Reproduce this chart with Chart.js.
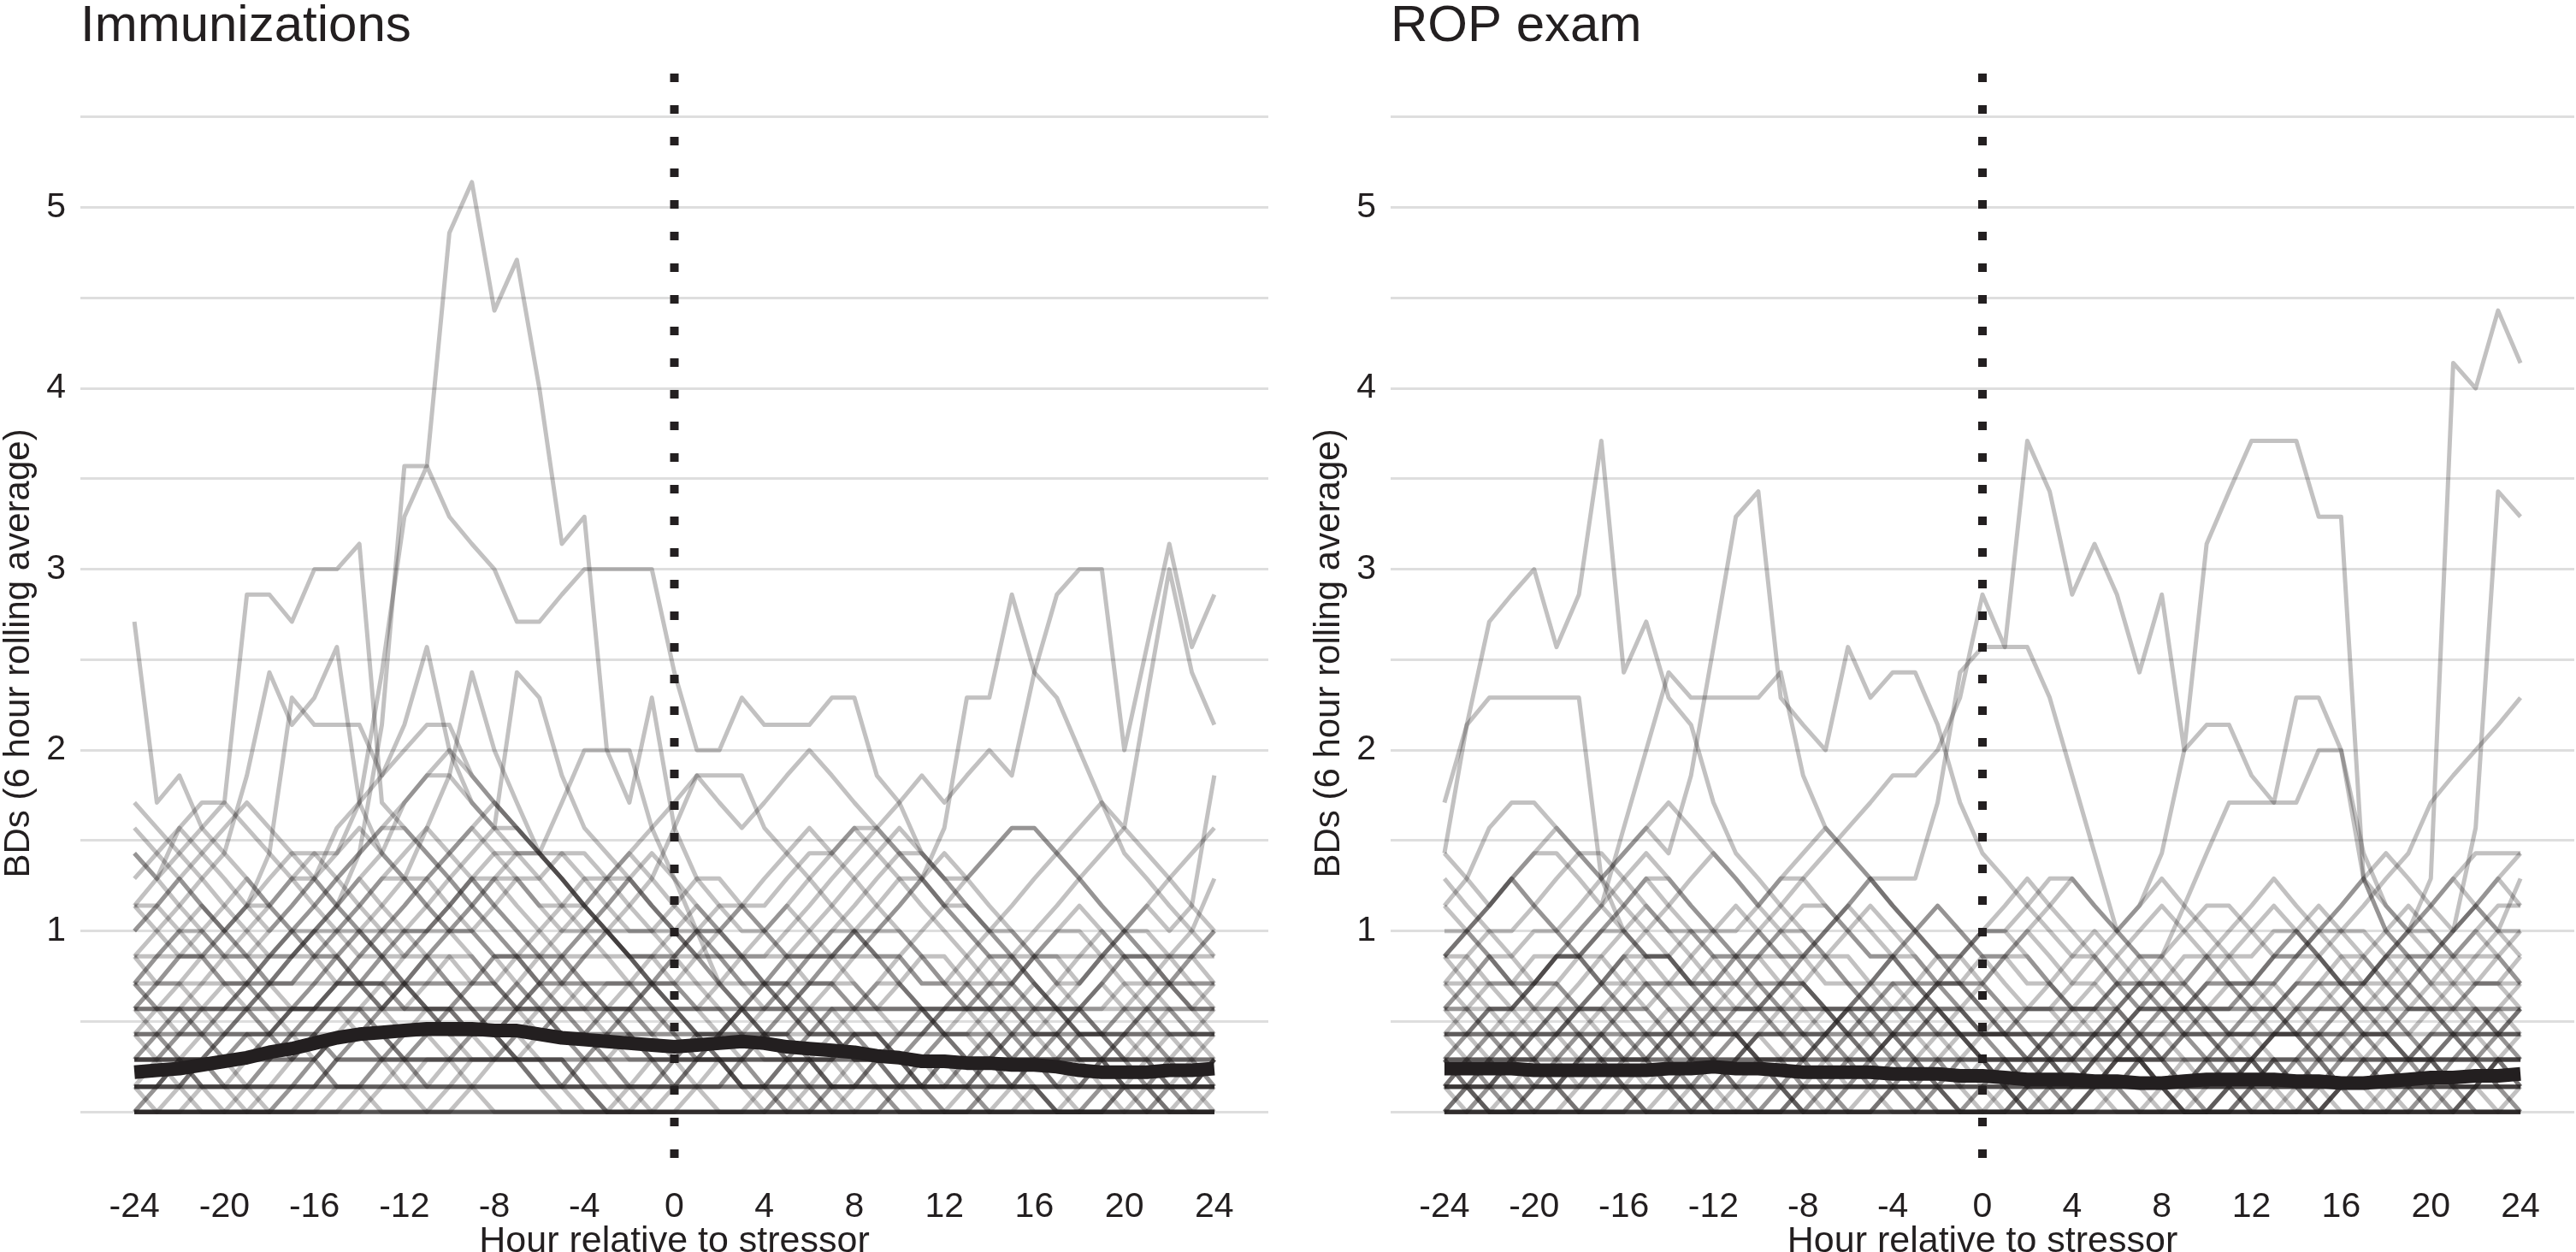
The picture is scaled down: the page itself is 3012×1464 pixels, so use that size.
<!DOCTYPE html>
<html>
<head>
<meta charset="utf-8">
<script src="https://cdn.jsdelivr.net/npm/chart.js@4.4.1/dist/chart.umd.min.js"></script>
<style>
  html, body { margin: 0; padding: 0; background: #fff; }
  body { width: 3012px; height: 1464px; position: relative; overflow: hidden; }
  canvas { position: absolute; top: 0; }
  #immun { left: 0; }
  #rop { left: 1532px; }
</style>
</head>
<body>
<canvas id="immun" width="1500" height="1464"></canvas>
<canvas id="rop" width="1480" height="1464"></canvas>
<script>
// hours relative to the stressor
var hours = [-24,-23,-22,-21,-20,-19,-18, -17,-16,-15,-14,-13,-12,-11, -10,-9,-8,-7,-6,-5,-4,
             -3,-2,-1,0,1,2,3, 4,5,6,7,8,9,10, 11,12,13,14,15,16,17, 18,19,20,21,22,23,24];
var xTicks = [-24,-20,-16,-12,-8,-4,0,4,8,12,16,20,24];
var yGrid = [0,0.5,1,1.5,2,2.5,3,3.5,4,4.5,5,5.5];
var yLabels = [1,2,3,4,5];

// Immunizations: one row per infant (6 hour rolling average of BDs)
var immunSeries = [
  [0.29,0.43,0.43,0.57,0.57,0.71,0.71, 0.86,1,1.14,1.43,2.14,3.57,3.57, 4.86,5.14,4.43,4.71,4,3.14,3.29, 2,2,1.57,1.29,1,0.71,0.57, 0.43,0.43,0.29,0.29,0.14,0.14,0.14, 0.14,0.29,0.29,0.29,0.14,0.14,0, 0,0,0.14,0.14,0.14,0,0],
  [0.57,0.71,0.86,0.86,1,1.14,1.14, 1.29,1.43,1.43,1.71,2.43,3.29,3.57, 3.29,3.14,3,2.71,2.71,2.86,3, 3,3,3,2.43,2,2,2.29, 2.14,2.14,2.14,2.29,2.29,1.86,1.71, 1.43,1.29,1.14,1,0.86,0.71,0.57, 0.43,0.43,0.29,0.29,0.14,0.14,0.14],
  [1.43,1.29,1.57,1.71,1.71,2.86,2.86, 2.71,3,3,3.14,1.71,1.57,1.43, 1.29,1.14,1,0.86,0.86,0.71,0.71, 0.57,0.57,0.43,0.43,0.29,0.29,0.14, 0.14,0.14,0.29,0.29,0.43,0.43,0.29, 0.29,0.14,0.14,0,0,0,0, 0,0.14,0.14,0.14,0.14,0,0],
  [2.71,1.71,1.86,1.57,1.43,1.29,1.14, 1,0.86,0.86,0.71,0.71,0.57,0.57, 0.43,0.43,0.57,0.71,0.86,1,1.14, 1.29,1.29,1.14,1,0.86,0.71,0.57, 0.43,0.29,0.29,0.14,0.14,0.29,0.43, 0.57,0.57,0.71,0.86,0.86,0.71,0.57, 0.43,0.43,0.29,0.29,0.14,0.14,0.29],
  [0.86,1,1.14,1.29,1.43,1.86,2.43, 2.14,2.29,2.57,1.71,1.43,1.29,1.57, 1.86,2.43,2,1.71,1.43,1.29,1.14, 1,0.86,0.86,0.71,0.57,0.57,0.43, 0.43,0.29,0.29,0.14,0.14,0.14,0, 0,0,0,0.14,0.14,0.29,0.29, 0.43,0.43,0.57,0.57,0.43,0.29,0.29],
  [1,1.14,1.29,1.14,1,1.14,1.43, 2.29,2.14,2.14,2.14,1.86,2.14,2.57, 2,1.71,1.57,2.43,2.29,1.86,1.57, 1.43,1.29,1.14,1,0.86,0.86,0.71, 0.71,0.57,0.43,0.43,0.29,0.29,0.29, 0.14,0.14,0.14,0.29,0.29,0.43,0.43, 0.29,0.29,0.14,0.14,0,0,0],
  [0.43,0.43,0.29,0.29,0.43,0.57,0.71, 0.71,0.86,1,1,0.86,0.71,0.57, 0.57,0.43,0.43,0.57,0.71,0.86,1, 1,0.86,0.71,0.57,0.57,0.71,0.86, 1,1.14,1,0.86,0.86,1,1.14, 1.29,1.57,2.29,2.29,2.86,2.43,2.29, 2,1.71,1.43,1.29,1.14,1,0.86],
  [0.14,0.14,0.29,0.29,0.29,0.43,0.43, 0.57,0.57,0.71,0.71,0.57,0.43,0.43, 0.29,0.29,0.29,0.43,0.43,0.57,0.57, 0.71,0.71,0.86,0.86,1,1,1.14, 1.14,1.29,1.43,1.43,1.57,1.57,1.71, 1.86,1.71,1.86,2,1.86,2.43,2.86, 3,3,2,2.57,3.14,2.57,2.86],
  [0.57,0.57,0.43,0.43,0.29,0.29,0.43, 0.57,0.71,0.86,0.71,0.57,0.57,0.71, 0.86,0.86,0.71,0.57,0.57,0.43,0.43, 0.57,0.71,0.71,0.86,1,1.14,1.14, 1,0.86,0.86,1,1.14,1.29,1.43, 1.43,1.29,1.14,1,1.14,1.29,1.43, 1.57,1.71,1.57,2.29,3,2.43,2.14],
  [0.29,0.29,0.43,0.57,0.57,0.71,0.86, 0.86,1,1,1.14,1.29,1.29,1.14, 1,1,1.14,1.29,1.29,1.43,1.43, 1.29,1.43,1.57,1.71,1.86,1.86,1.86, 1.57,1.43,1.29,1.14,1,0.86,0.86, 0.71,0.71,0.86,1,1,0.86,0.86, 0.71,0.86,1,1.14,1,1.14,1.86],
  [0.71,0.57,0.57,0.43,0.43,0.57,0.71, 0.86,1,1.14,1.29,1.14,1,1, 1.14,1.29,1.43,1.43,1.43,1.71,2, 2,1.71,2.29,1.57,1.29,1.14,1, 1,1.14,1.29,1.43,1.57,1.43,1.29, 1.14,1,0.86,0.71,0.57,0.43,0.43, 0.57,0.71,0.86,0.86,0.71,0.57,0.57],
  [1.14,1,0.86,0.86,0.71,0.71,0.86, 1,1.14,1.29,1.43,1.57,1.57,1.43, 1.29,1.14,1,0.86,0.71,0.71,0.86, 1,1.14,1.29,1.57,1.86,1.71,1.57, 1.71,1.86,2,1.86,1.71,1.57,1.43, 1.29,1.14,1.29,1.43,1.57,1.57,1.43, 1.29,1.14,1,0.86,0.71,0.57,0.71],
  [0,0,0,0,0,0,0, 0,0,0.14,0.14,0.14,0.14,0.14, 0.14,0.14,0,0,0,0,0, 0,0,0,0,0,0,0, 0,0.14,0.14,0.14,0.14,0.14,0.14, 0.14,0,0,0,0,0,0, 0,0,0,0,0,0,0],
  [0.14,0.14,0.14,0.14,0.14,0.14,0.14, 0.14,0.14,0.14,0.14,0.14,0.29,0.29, 0.29,0.29,0.29,0.29,0.29,0.14,0.14, 0.14,0.14,0.14,0.14,0.14,0.14,0.14, 0.14,0.14,0.14,0.14,0.14,0.14,0.14, 0.14,0.14,0.14,0.14,0.14,0.14,0.14, 0.14,0.14,0.14,0.14,0.14,0.14,0.14],
  [0,0.14,0.29,0.29,0.14,0,0, 0.14,0.29,0.43,0.43,0.29,0.14,0, 0,0.14,0.29,0.29,0.29,0.14,0.14, 0,0,0.14,0.29,0.43,0.43,0.29, 0.14,0,0,0.14,0.14,0.29,0.29, 0.14,0,0,0,0.14,0.29,0.29, 0.29,0.14,0,0,0.14,0.14,0.29],
  [0.43,0.43,0.57,0.57,0.71,0.71,0.57, 0.43,0.43,0.29,0.43,0.57,0.71,0.86, 0.86,0.71,0.71,0.57,0.43,0.43,0.29, 0.29,0.43,0.43,0.57,0.57,0.57,0.43, 0.29,0.29,0.14,0.14,0.29,0.29,0.29, 0.14,0.14,0.14,0.29,0.43,0.43,0.43, 0.29,0.29,0.14,0.14,0,0,0.14],
  [0.29,0.29,0.29,0.29,0.29,0.29,0.29, 0.43,0.43,0.43,0.43,0.43,0.43,0.43, 0.43,0.43,0.43,0.43,0.43,0.43,0.43, 0.29,0.29,0.29,0.29,0.29,0.29,0.29, 0.29,0.29,0.29,0.29,0.29,0.29,0.29, 0.29,0.29,0.29,0.14,0.14,0.14,0.14, 0.14,0.14,0.14,0.14,0.14,0.14,0.14],
  [0.71,0.86,1,1,0.86,0.71,0.57, 0.57,0.71,0.86,1,1.14,1.29,1.29, 1.14,1,0.86,0.86,0.71,0.57,0.43, 0.43,0.57,0.71,0.86,1,1,0.86, 0.71,0.57,0.57,0.43,0.43,0.29,0.29, 0.43,0.57,0.57,0.71,0.71,0.57,0.43, 0.43,0.29,0.29,0.43,0.57,0.57,0.43],
  [0,0,0,0.14,0.14,0.14,0.14, 0.29,0.43,0.57,0.57,0.57,0.57,0.57, 0.57,0.57,0.43,0.43,0.29,0.29,0.14, 0.14,0.14,0,0,0,0,0, 0,0.14,0.29,0.29,0.43,0.43,0.43, 0.43,0.43,0.43,0.43,0.29,0.14,0, 0,0,0,0,0,0,0],
  [1.14,1.14,1,0.86,1,1.14,1.29, 1.43,1.43,1.29,1.14,1,0.86,0.86, 1,1.14,1.29,1.29,1.14,1.14,1, 0.86,0.71,0.57,0.57,0.43,0.43,0.57, 0.71,0.86,0.86,0.86,1,1,1, 0.86,0.71,0.57,0.57,0.57,0.43,0.43, 0.29,0.29,0.43,0.57,0.71,0.71,0.57],
  [0.14,0,0,0,0,0,0, 0,0,0,0.14,0.29,0.43,0.43, 0.57,0.71,0.86,0.86,0.71,0.57,0.43, 0.29,0.14,0.14,0.14,0.29,0.43,0.57, 0.71,0.71,0.57,0.43,0.29,0.14,0, 0,0,0,0.14,0.14,0.14,0, 0,0,0.14,0.29,0.29,0.29,0.14],
  [0.57,0.57,0.57,0.57,0.43,0.43,0.43, 0.57,0.57,0.71,0.71,0.71,0.71,0.71, 0.71,0.71,0.71,0.57,0.57,0.57,0.57, 0.57,0.57,0.57,0.43,0.43,0.43,0.43, 0.43,0.43,0.57,0.57,0.57,0.57,0.57, 0.57,0.57,0.57,0.57,0.57,0.43,0.43, 0.43,0.43,0.43,0.43,0.43,0.43,0.43],
  [0,0,0.14,0.29,0.43,0.43,0.29, 0.29,0.43,0.57,0.57,0.43,0.29,0.14, 0.29,0.43,0.57,0.71,0.57,0.43,0.29, 0.14,0,0,0,0.14,0.29,0.29, 0.14,0.14,0,0,0,0,0.14, 0.29,0.43,0.43,0.29,0.14,0,0, 0.14,0.29,0.29,0.14,0,0,0],
  [1.29,1.43,1.57,1.43,1.29,1.14,1, 1.14,1.29,1.57,1.71,1.86,2,2.14, 2.14,1.86,1.71,1.57,1.43,1.43,1.29, 1.14,1,1,1.14,1.29,1.29,1.14, 1,0.86,0.71,0.71,0.57,0.57,0.71, 0.86,0.86,0.71,0.57,0.43,0.43,0.29, 0.29,0.29,0.14,0.14,0.29,0.43,0.43],
  [0.86,0.71,0.71,0.57,0.57,0.71,0.86, 1,1,0.86,0.71,0.57,0.71,0.86, 1,1.14,1.29,1.43,1.43,1.29,1.14, 1,1,1,1,1,0.86,0.71, 0.57,0.57,0.71,0.86,1,1.14,1.29, 1.29,1.14,1,0.86,0.71,0.57,0.57, 0.71,0.86,1,1,0.86,0.71,0.71],
  [0,0,0,0,0,0,0.14, 0.14,0.14,0.29,0.29,0.29,0.29,0.29, 0.29,0.14,0.14,0.14,0.14,0.14,0, 0,0,0,0,0,0,0, 0,0,0,0,0,0,0, 0,0,0,0,0,0,0, 0,0,0,0,0,0,0],
  [0.43,0.29,0.29,0.14,0.14,0.14,0.29, 0.43,0.57,0.71,0.86,0.86,0.71,0.57, 0.57,0.43,0.29,0.29,0.43,0.57,0.71, 0.71,0.71,0.57,0.43,0.29,0.29,0.14, 0.14,0.29,0.43,0.57,0.57,0.71,0.71, 0.57,0.43,0.29,0.29,0.29,0.43,0.57, 0.57,0.43,0.29,0.14,0.14,0.14,0.29],
  [1.57,1.43,1.29,1.43,1.57,1.71,1.57, 1.43,1.29,1.14,1.29,1.43,1.71,1.86, 1.86,1.71,1.57,1.43,1.29,1.14,1.14, 1.29,1.43,1.29,1.14,1,0.86,0.86, 0.71,0.86,1,1.14,1.29,1.43,1.57, 1.43,1.29,1.29,1.43,1.57,1.57,1.43, 1.29,1.14,1,0.86,0.86,1,1.29],
  [0.14,0.14,0.29,0.43,0.57,0.57,0.43, 0.29,0.29,0.43,0.57,0.71,0.86,1, 1.14,1.29,1.14,1,0.86,0.71,0.57, 0.43,0.43,0.29,0.14,0.14,0.14,0.29, 0.43,0.57,0.71,0.71,0.57,0.43,0.29, 0.29,0.43,0.57,0.71,0.86,0.86,0.71, 0.57,0.43,0.43,0.57,0.71,0.86,1],
  [0,0,0,0,0,0,0, 0,0,0,0,0,0,0, 0,0,0,0,0,0,0, 0,0,0,0,0,0,0, 0,0,0,0,0,0,0, 0,0,0,0,0,0,0, 0,0,0,0,0,0,0],
  [0.14,0.14,0.14,0,0,0,0, 0,0,0,0,0.14,0.14,0.14, 0.14,0.14,0.14,0.14,0.14,0.14,0.14, 0,0,0,0,0,0,0, 0,0,0,0.14,0.14,0.14,0.14, 0.14,0.14,0.14,0,0,0,0, 0,0,0,0,0.14,0.14,0.14],
  [0.29,0.29,0.43,0.43,0.43,0.43,0.43, 0.43,0.43,0.29,0.29,0.29,0.29,0.29, 0.29,0.43,0.43,0.43,0.43,0.43,0.43, 0.43,0.29,0.29,0.29,0.29,0.29,0.29, 0.29,0.29,0.29,0.43,0.43,0.43,0.43, 0.43,0.43,0.43,0.43,0.29,0.29,0.29, 0.29,0.29,0.29,0.29,0.43,0.43,0.43],
  [0.71,0.71,0.71,0.71,0.71,0.71,0.71, 0.71,0.71,0.71,0.71,0.71,0.71,0.57, 0.57,0.57,0.57,0.57,0.71,0.71,0.71, 0.71,0.71,0.71,0.71,0.71,0.71,0.71, 0.71,0.71,0.71,0.71,0.71,0.57,0.57, 0.57,0.57,0.57,0.57,0.57,0.57,0.57, 0.57,0.57,0.71,0.71,0.71,0.71,0.71],
  [0,0,0,0,0,0,0, 0,0,0,0,0,0,0, 0,0,0,0,0,0,0, 0,0,0,0,0,0,0, 0,0,0,0,0,0,0, 0,0,0,0,0,0,0, 0,0,0,0,0,0,0],
  [0.43,0.57,0.71,0.86,0.71,0.57,0.43, 0.29,0.43,0.57,0.71,0.86,1,0.86, 0.71,0.57,0.43,0.57,0.71,0.86,0.71, 0.57,0.43,0.29,0.14,0.29,0.43,0.57, 0.43,0.29,0.14,0,0.14,0.29,0.43, 0.57,0.43,0.29,0.14,0.14,0.29,0.43, 0.57,0.71,0.57,0.43,0.29,0.14,0.29],
  [0,0.14,0.14,0.29,0.43,0.57,0.71, 0.86,1,1.14,1,0.86,0.71,0.57, 0.43,0.29,0.29,0.43,0.57,0.71,0.86, 1,0.86,0.71,0.57,0.43,0.29,0.14, 0,0,0.14,0.29,0.43,0.43,0.29, 0.14,0.14,0.29,0.43,0.57,0.71,0.57, 0.43,0.29,0.14,0,0,0.14,0.29],
  [0.86,0.86,0.86,0.86,0.86,0.86,0.86, 0.86,0.86,0.86,1,1,1,1, 1,1,0.86,0.86,0.86,0.86,0.86, 0.86,0.86,0.86,0.86,0.86,0.86,0.86, 0.86,0.86,0.86,0.86,0.86,0.86,0.86, 0.71,0.71,0.71,0.71,0.71,0.86,0.86, 0.86,0.86,0.86,0.86,0.86,0.86,0.86],
  [0.14,0.29,0.29,0.14,0.14,0.29,0.43, 0.43,0.29,0.14,0.14,0.29,0.43,0.57, 0.57,0.43,0.43,0.29,0.14,0.14,0.29, 0.43,0.43,0.29,0.29,0.14,0,0, 0.14,0.29,0.29,0.14,0,0,0.14, 0.29,0.29,0.14,0.14,0.29,0.29,0.14, 0,0,0.14,0.14,0.29,0.29,0.14],
  [1,1.14,1.29,1.14,1,0.86,0.71, 0.71,0.86,1,1.14,1.29,1.43,1.57, 1.43,1.29,1.14,1,0.86,0.86,1, 1.14,1.29,1.14,1,0.86,0.71,0.57, 0.57,0.71,0.86,1,1,0.86,0.71, 0.57,0.43,0.43,0.57,0.71,0.86,1, 1.14,1,0.86,0.71,0.71,0.86,1],
  [0.57,0.43,0.29,0.14,0.14,0.14,0.29, 0.43,0.57,0.57,0.43,0.29,0.29,0.43, 0.57,0.71,0.86,0.71,0.57,0.43,0.43, 0.57,0.57,0.43,0.29,0.29,0.43,0.57, 0.71,0.71,0.57,0.43,0.29,0.29,0.29, 0.43,0.57,0.71,0.57,0.43,0.29,0.14, 0.14,0.29,0.43,0.43,0.29,0.29,0.43],
  [0.29,0.29,0.14,0.14,0,0,0, 0.14,0.29,0.43,0.43,0.43,0.29,0.14, 0.14,0.29,0.29,0.29,0.14,0,0, 0,0.14,0.14,0.29,0.29,0.29,0.14, 0.14,0,0,0,0,0.14,0.14, 0.14,0.29,0.29,0.29,0.14,0.14,0, 0,0,0,0.14,0.14,0.14,0],
  [1.43,1.29,1.14,1,0.86,0.86,1, 1.14,1.29,1.43,1.57,1.43,1.29,1.14, 1,0.86,0.71,0.86,1,1.14,1.29, 1.29,1.14,1,0.86,0.71,0.57,0.57, 0.43,0.43,0.57,0.71,0.86,1,1.14, 1.29,1.43,1.29,1.14,1,0.86,0.71, 0.71,0.86,1,1.14,1.29,1.43,1.57],
  [0.14,0.14,0.14,0.29,0.29,0.29,0.29, 0.29,0.29,0.14,0.14,0.14,0.14,0.29, 0.29,0.29,0.29,0.29,0.29,0.29,0.14, 0.14,0.14,0.14,0.14,0.29,0.29,0.29, 0.29,0.29,0.29,0.14,0.14,0.14,0.14, 0.14,0.14,0.29,0.29,0.29,0.29,0.29, 0.14,0.14,0.14,0.14,0.14,0.29,0.29],
  [0.71,0.57,0.57,0.71,0.86,1,1.14, 1.29,1.29,1.14,1,0.86,0.86,1, 1.14,1.29,1.29,1.14,1,0.86,0.71, 0.57,0.57,0.71,0.71,0.57,0.43,0.43, 0.57,0.71,0.86,0.86,0.71,0.57,0.43, 0.43,0.57,0.57,0.43,0.29,0.29,0.43, 0.57,0.71,0.86,0.86,0.71,0.57,0.57],
  [0,0,0,0,0,0.14,0.14, 0.14,0.14,0.14,0.14,0,0,0, 0,0,0,0,0,0,0, 0,0,0,0.14,0.14,0.14,0.14, 0.14,0.14,0.14,0,0,0,0, 0,0,0,0,0,0,0, 0,0.14,0.14,0.14,0.14,0.14,0.14],
  [0.43,0.43,0.43,0.43,0.57,0.57,0.57, 0.57,0.57,0.57,0.57,0.43,0.43,0.43, 0.43,0.43,0.43,0.57,0.57,0.57,0.57, 0.57,0.43,0.43,0.43,0.43,0.43,0.43, 0.43,0.43,0.43,0.43,0.43,0.43,0.29, 0.29,0.29,0.29,0.29,0.29,0.29,0.29, 0.43,0.43,0.43,0.43,0.43,0.43,0.43],
  [1.71,1.57,1.43,1.29,1.14,1,0.86, 1,1.14,1.29,1.43,1.57,1.71,1.86, 2,1.86,1.71,1.57,1.43,1.29,1.14, 1,0.86,0.71,0.71,0.86,1,1.14, 1.29,1.43,1.57,1.43,1.29,1.14,1, 0.86,0.71,0.57,0.57,0.71,0.86,1, 1,0.86,0.71,0.57,0.43,0.43,0.57],
  [0.29,0.43,0.57,0.43,0.29,0.14,0, 0,0.14,0.29,0.43,0.57,0.71,0.86, 0.71,0.57,0.43,0.29,0.14,0.14,0.29, 0.43,0.57,0.71,0.57,0.43,0.29,0.14, 0.14,0.29,0.43,0.57,0.43,0.29,0.14, 0,0,0.14,0.29,0.43,0.29,0.14, 0.14,0.29,0.43,0.57,0.57,0.43,0.29],
  [0.57,0.71,0.86,1,1.14,1.29,1.14, 1,0.86,0.71,0.71,0.86,1,1.14, 1.29,1.43,1.57,1.57,1.43,1.29,1.14, 1,0.86,0.86,1,1.14,1,0.86, 0.71,0.57,0.43,0.43,0.57,0.71,0.86, 1,1.14,1.14,1,0.86,0.71,0.57, 0.43,0.43,0.57,0.71,0.86,0.86,0.71],
  [0,0,0,0,0,0,0, 0,0,0,0,0,0,0, 0.14,0.14,0.14,0.14,0.14,0.14,0.14, 0,0,0,0,0,0,0, 0,0,0,0,0,0,0, 0,0,0,0,0,0.14,0.14, 0.14,0.14,0.14,0,0,0,0],
  [0.29,0.29,0.29,0.29,0.14,0.14,0.14, 0.14,0.14,0.29,0.29,0.29,0.29,0.43, 0.43,0.43,0.43,0.29,0.29,0.29,0.29, 0.29,0.14,0.14,0.14,0.14,0.14,0.29, 0.29,0.29,0.29,0.29,0.29,0.29,0.14, 0.14,0.14,0.14,0.14,0.14,0.14,0.14, 0.29,0.29,0.29,0.29,0.14,0.14,0.14],
  [0.71,0.86,1,1.14,1,0.86,0.71, 0.57,0.57,0.71,0.86,1,1.14,1.29, 1.43,1.57,1.71,1.57,1.43,1.29,1.14, 1,0.86,0.71,0.57,0.43,0.29,0.29, 0.43,0.57,0.71,0.86,1,0.86,0.71, 0.57,0.43,0.29,0.29,0.43,0.57,0.71, 0.86,1,0.86,0.71,0.57,0.43,0.43],
  [0.14,0.14,0.29,0.29,0.29,0.43,0.43, 0.57,0.57,0.57,0.71,0.71,0.57,0.57, 0.43,0.43,0.43,0.29,0.29,0.29,0.14, 0.14,0.14,0.29,0.29,0.43,0.43,0.57, 0.57,0.57,0.43,0.43,0.29,0.29,0.14, 0.14,0.29,0.29,0.43,0.43,0.57,0.57, 0.57,0.43,0.43,0.29,0.29,0.14,0.14],
  [1.14,1.29,1.43,1.57,1.71,1.57,1.43, 1.29,1.14,1,0.86,1,1.14,1.29, 1.43,1.57,1.43,1.29,1.14,1,1, 1.14,1.29,1.43,1.29,1.14,1,0.86, 0.86,1,1.14,1.29,1.43,1.57,1.43, 1.29,1.14,1,0.86,0.86,1,1.14, 1.29,1.43,1.57,1.43,1.29,1.14,1],
  [0,0,0,0,0,0,0, 0,0,0,0,0,0,0, 0,0,0,0,0,0,0, 0,0,0,0,0,0,0, 0,0,0,0,0,0,0, 0,0,0,0,0,0,0, 0,0,0,0,0,0,0],
  [0.14,0.14,0.14,0.14,0.14,0.14,0.14, 0.14,0.14,0.14,0.14,0.14,0.14,0.14, 0.14,0.14,0.14,0.14,0.14,0.14,0.14, 0.14,0.14,0.14,0.14,0.14,0.14,0.14, 0.14,0.14,0.14,0.14,0.14,0.14,0.14, 0.14,0.14,0.14,0.14,0.14,0.14,0.14, 0.14,0.14,0.14,0.14,0.14,0.14,0.14],
  [0.29,0.29,0.29,0.29,0.29,0.29,0.29, 0.29,0.29,0.43,0.43,0.43,0.29,0.29, 0.29,0.29,0.29,0.29,0.29,0.29,0.29, 0.29,0.29,0.29,0.29,0.29,0.29,0.29, 0.43,0.43,0.29,0.29,0.29,0.29,0.29, 0.29,0.29,0.29,0.29,0.29,0.29,0.29, 0.29,0.29,0.29,0.29,0.29,0.29,0.29],
  [0.57,0.57,0.57,0.57,0.57,0.57,0.57, 0.57,0.57,0.57,0.57,0.57,0.71,0.71, 0.71,0.57,0.57,0.57,0.57,0.57,0.57, 0.57,0.57,0.57,0.57,0.57,0.57,0.57, 0.57,0.57,0.57,0.57,0.57,0.57,0.57, 0.57,0.57,0.57,0.57,0.57,0.57,0.57, 0.57,0.57,0.57,0.57,0.57,0.57,0.57]
];
var immunMean = [0.22,0.23,0.24,0.26,0.28,0.30,0.33, 0.35,0.38,0.41,0.43,0.44,0.45,0.46, 0.46,0.46,0.45,0.45,0.43,0.41,0.40,
                 0.39,0.38,0.37,0.36,0.37,0.38,0.39, 0.38,0.36,0.35,0.34,0.33,0.31,0.30, 0.28,0.28,0.27,0.27,0.26,0.26,0.25,
                 0.23,0.22,0.22,0.22,0.23,0.23,0.24];

// ROP exam
var ropSeries = [
  [0.14,0.14,0,0,0,0.14,0.14, 0.29,0.29,0.43,0.43,0.29,0.29,0.14, 0.14,0.14,0,0,0,0,0.14, 0.14,0.29,0.29,0.43,0.43,0.57,0.57, 0.43,0.43,0.29,0.29,0.29,0.43,0.57, 0.57,0.71,0.71,0.86,0.86,1,1, 0.86,1,1.29,4.14,4,4.43,4.14],
  [0.43,0.43,0.29,0.29,0.14,0.14,0.29, 0.29,0.43,0.43,0.57,0.57,0.43,0.43, 0.29,0.29,0.14,0.14,0.29,0.29,0.43, 0.43,0.57,0.57,0.43,0.43,0.29,0.29, 0.14,0.14,0.29,0.29,0.43,0.57,0.57, 0.71,0.71,0.57,0.57,0.43,0.43,0.57, 0.71,0.86,0.86,1,1.57,3.43,3.29],
  [0.29,0.29,0.43,0.43,0.57,0.57,0.43, 0.43,0.29,0.29,0.43,0.57,0.71,0.71, 0.57,0.57,0.43,0.43,0.57,0.71,0.86, 0.86,0.71,0.71,0.57,0.43,0.43,0.29, 0.29,0.43,0.57,0.71,0.71,0.57,0.57, 0.43,0.57,0.71,0.86,1,1,1.14, 1.29,1.43,1.71,1.86,2,2.14,2.29],
  [1.71,2.14,2.71,2.86,3,2.57,2.86, 3.71,2.43,2.71,2.29,2.14,1.71,1.43, 1.29,1.14,1,0.86,0.86,0.71,0.57, 0.57,0.43,0.43,0.29,0.29,0.14,0.14, 0.14,0.29,0.29,0.43,0.43,0.29,0.29, 0.14,0.14,0,0,0,0.14,0.14, 0.29,0.29,0.43,0.43,0.29,0.29,0.14],
  [0.57,0.71,0.86,0.86,1,1,1.14, 1.29,1.43,1.57,1.43,1.86,2.57,3.29, 3.43,2.29,2.14,2,2.57,2.29,2.43, 2.43,2.14,1.71,1.43,1.29,1.14,1, 0.86,0.86,0.71,0.57,0.57,0.43,0.43, 0.29,0.29,0.43,0.43,0.57,0.57,0.43, 0.43,0.29,0.29,0.14,0.14,0.29,0.29],
  [0.43,0.43,0.57,0.57,0.71,0.71,0.57, 0.57,0.71,0.86,0.86,0.71,0.71,0.86, 1,1.14,1.29,1.43,1.57,1.71,1.86, 1.86,2,2.29,2.86,2.57,3.71,3.43, 2.86,3.14,2.86,2.43,2.86,2,3.14, 3.43,3.71,3.71,3.71,3.29,3.29,1.29, 1,0.86,0.71,0.57,0.57,0.43,0.43],
  [0.14,0.29,0.29,0.43,0.43,0.29,0.29, 0.43,0.57,0.57,0.43,0.29,0.29,0.43, 0.57,0.71,0.71,0.57,0.43,0.43,0.57, 0.71,0.86,0.86,1,1,1.14,1.29, 1.29,1.14,1,1.14,1.43,2,2.14, 2.14,1.86,1.71,2.29,2.29,2,1.29, 1,0.86,0.71,0.71,0.57,0.57,0.43],
  [1.43,2.14,2.29,2.29,2.29,2.29,2.29, 1.29,1,0.86,0.86,0.71,0.71,0.57, 0.57,0.43,0.43,0.57,0.57,0.71,0.71, 0.57,0.57,0.43,0.43,0.29,0.29,0.29, 0.14,0.14,0.14,0.29,0.29,0.29,0.14, 0.14,0,0,0,0.14,0.14,0.14, 0.29,0.29,0.29,0.14,0.14,0,0],
  [0.86,1,1.14,1.29,1.43,1.43,1.29, 1.14,1.57,2,2.43,2.29,2.29,2.29, 2.29,2.43,1.86,1.57,1.43,1.29,1.14, 1,0.86,0.71,0.71,0.57,0.43,0.43, 0.29,0.29,0.43,0.43,0.57,0.57,0.71, 0.71,0.57,0.57,0.43,0.43,0.29,0.29, 0.14,0.14,0.29,0.29,0.43,0.43,0.57],
  [0.29,0.43,0.57,0.57,0.71,0.86,0.86, 0.71,0.57,0.57,0.71,0.86,1,1.14, 1,0.86,0.86,1,1.14,1.29,1.29, 1.29,1.71,2.43,2.57,2.57,2.57,2.29, 1.86,1.43,1,0.86,0.71,0.57,0.57, 0.43,0.43,0.57,0.71,0.71,0.86,0.86, 0.71,0.57,0.57,0.43,0.43,0.29,0.29],
  [0.71,0.86,1,1,1.14,1.29,1.43, 1.43,1.29,1.14,1,1,0.86,0.86, 0.71,0.71,0.57,0.57,0.43,0.43,0.57, 0.57,0.71,0.71,0.57,0.43,0.43,0.29, 0.29,0.43,0.57,0.71,0.86,1.14,1.43, 1.71,1.71,1.71,1.71,2,2,1.43, 1.14,1,1.14,1.29,1.43,1.43,1.43],
  [1.14,1.29,1.57,1.71,1.71,1.57,1.43, 1.29,1.43,1.57,1.71,1.57,1.43,1.29, 1.14,1.29,1.43,1.57,1.43,1.29,1.14, 1,0.86,0.86,1,1.14,1.29,1.14, 1,0.86,0.71,0.57,0.57,0.71,0.86, 1,1.14,1.29,1.14,1,0.86,0.71, 0.86,1,1.14,1.29,1.14,1,1.29],
  [0,0,0,0,0,0,0, 0,0,0,0,0,0,0, 0,0,0,0,0,0,0, 0,0,0,0,0,0,0, 0,0,0,0,0,0,0, 0,0,0,0,0,0,0, 0,0,0,0,0,0,0],
  [0,0,0,0,0,0,0, 0,0,0,0,0,0,0, 0,0,0,0,0,0,0, 0,0,0,0,0,0,0, 0,0,0,0,0,0,0, 0,0,0,0,0,0,0, 0,0,0,0,0,0,0],
  [0.14,0.14,0.14,0.14,0.14,0.14,0.14, 0.14,0.14,0.14,0.14,0.14,0.14,0.14, 0.14,0.14,0,0.14,0.14,0.14,0.14, 0.14,0.14,0.14,0.14,0.14,0.14,0.14, 0.14,0.14,0.14,0.14,0.14,0.14,0.14, 0.14,0.14,0.14,0.14,0,0.14,0.14, 0.14,0.14,0.14,0.14,0.14,0.14,0.14],
  [0,0.14,0.29,0.43,0.29,0.14,0, 0.14,0.29,0.29,0.14,0,0.14,0.29, 0.43,0.43,0.29,0.14,0,0,0.14, 0.29,0.29,0.14,0,0,0.14,0.29, 0.43,0.29,0.14,0,0.14,0.29,0.29, 0.14,0,0,0.14,0.29,0.43,0.29, 0.14,0,0.14,0.29,0.29,0.14,0],
  [0.29,0.29,0.29,0.29,0.29,0.43,0.43, 0.43,0.29,0.29,0.29,0.29,0.29,0.29, 0.29,0.29,0.29,0.43,0.43,0.43,0.29, 0.29,0.29,0.29,0.29,0.29,0.14,0.14, 0.14,0.14,0.14,0.29,0.29,0.29,0.29, 0.29,0.29,0.14,0.14,0.14,0.14,0.14, 0.29,0.29,0.29,0.29,0.29,0.29,0.29],
  [0.86,0.71,0.57,0.57,0.71,0.86,0.86, 0.71,0.57,0.43,0.43,0.57,0.71,0.86, 1,0.86,0.71,0.57,0.43,0.29,0.29, 0.43,0.57,0.57,0.43,0.29,0.14,0.14, 0.14,0.29,0.43,0.57,0.57,0.43,0.29, 0.29,0.29,0.43,0.57,0.71,0.71,0.57, 0.43,0.43,0.57,0.71,0.86,0.86,0.71],
  [0.57,0.57,0.43,0.43,0.43,0.57,0.57, 0.57,0.57,0.71,0.71,0.71,0.57,0.57, 0.57,0.43,0.43,0.43,0.57,0.57,0.57, 0.57,0.57,0.43,0.43,0.43,0.43,0.43, 0.43,0.43,0.43,0.57,0.57,0.57,0.57, 0.57,0.57,0.57,0.43,0.43,0.43,0.43, 0.43,0.57,0.57,0.57,0.57,0.57,0.57],
  [0,0,0.14,0.14,0,0,0, 0,0.14,0.14,0.14,0,0,0, 0,0,0.14,0.14,0.14,0.14,0, 0,0,0,0,0.14,0.14,0.14, 0,0,0,0,0,0.14,0.14, 0.14,0,0,0,0,0,0, 0,0.14,0.14,0.14,0,0,0],
  [0.14,0.29,0.43,0.57,0.71,0.71,0.57, 0.43,0.29,0.14,0.14,0.29,0.43,0.57, 0.57,0.71,0.86,0.86,0.71,0.57,0.43, 0.29,0.14,0,0,0,0.14,0.29, 0.29,0.43,0.43,0.29,0.14,0,0, 0.14,0.29,0.43,0.43,0.29,0.14,0.14, 0,0,0.14,0.29,0.43,0.57,0.57],
  [1,1,0.86,0.71,0.71,0.86,1, 1.14,1,0.86,0.86,1,1,0.86, 0.71,0.71,0.86,1,1.14,1,0.86, 0.71,0.57,0.57,0.71,0.86,0.86,0.71, 0.57,0.43,0.43,0.57,0.71,0.86,0.86, 0.71,0.71,0.86,1,0.86,0.71,0.71, 0.86,1,1,0.86,0.71,0.86,1],
  [0.43,0.43,0.43,0.43,0.43,0.43,0.43, 0.29,0.29,0.29,0.43,0.43,0.43,0.43, 0.43,0.43,0.57,0.57,0.57,0.43,0.43, 0.43,0.43,0.43,0.43,0.43,0.43,0.43, 0.29,0.29,0.29,0.29,0.29,0.43,0.43, 0.43,0.43,0.43,0.43,0.43,0.29,0.29, 0.29,0.29,0.43,0.43,0.43,0.43,0.43],
  [0.14,0.14,0.14,0.29,0.29,0.29,0.14, 0.14,0.14,0.14,0.14,0.29,0.29,0.29, 0.29,0.14,0.14,0.14,0.14,0.14,0.14, 0.14,0.14,0.14,0.29,0.29,0.29,0.29, 0.14,0.14,0.14,0.14,0.14,0.14,0.14, 0.14,0.14,0.29,0.29,0.29,0.14,0.14, 0.14,0.14,0.14,0.14,0.14,0.29,0.29],
  [0.71,0.71,0.71,0.71,0.86,0.86,0.86, 0.71,0.71,0.71,0.71,0.71,0.86,0.86, 0.86,0.71,0.71,0.57,0.57,0.57,0.71, 0.71,0.71,0.71,0.57,0.57,0.57,0.57, 0.57,0.57,0.71,0.71,0.71,0.71,0.57, 0.57,0.57,0.57,0.71,0.71,0.71,0.71, 0.71,0.57,0.57,0.57,0.71,0.71,0.71],
  [0,0,0,0,0.14,0.14,0.29, 0.43,0.43,0.29,0.14,0,0,0, 0,0.14,0.29,0.43,0.57,0.57,0.43, 0.29,0.14,0,0,0,0,0, 0,0,0.14,0.14,0.14,0,0, 0,0,0,0,0.14,0.29,0.43, 0.43,0.29,0.14,0,0,0,0],
  [1.29,1.14,1,0.86,0.71,0.86,1, 1.14,1.29,1.43,1.29,1.14,1,1, 1.14,1.29,1.29,1.14,1,0.86,0.86, 0.71,0.71,0.86,1,1,0.86,0.71, 0.57,0.57,0.71,0.86,0.86,0.71,0.57, 0.57,0.71,0.86,1,1.14,1,0.86, 0.71,0.71,0.86,1,1.14,1.29,1.14],
  [0.29,0.14,0,0,0.14,0.29,0.43, 0.57,0.57,0.43,0.29,0.14,0.14,0.29, 0.43,0.43,0.29,0.29,0.43,0.57,0.71, 0.71,0.57,0.43,0.29,0.14,0,0, 0,0.14,0.29,0.43,0.57,0.57,0.43, 0.29,0.14,0.14,0.29,0.43,0.57,0.71, 0.86,0.71,0.57,0.43,0.29,0.14,0.14],
  [0.14,0,0,0,0,0,0, 0,0,0,0,0,0,0, 0,0,0,0,0,0,0.14, 0.14,0.14,0,0,0,0,0, 0,0,0,0,0,0,0, 0,0,0,0,0,0,0, 0,0,0,0,0,0,0.14],
  [0.57,0.43,0.43,0.29,0.29,0.43,0.57, 0.71,0.86,0.86,0.71,0.57,0.43,0.43, 0.29,0.29,0.29,0.43,0.43,0.57,0.57, 0.43,0.29,0.14,0.14,0.14,0.29,0.43, 0.43,0.57,0.71,0.71,0.57,0.43,0.29, 0.29,0.29,0.14,0.14,0.29,0.43,0.57, 0.57,0.43,0.29,0.29,0.29,0.43,0.57],
  [0.14,0.14,0.29,0.29,0.14,0.14,0, 0,0,0.14,0.14,0.14,0,0, 0.14,0.29,0.29,0.14,0,0,0, 0,0.14,0.14,0.14,0,0,0, 0.14,0.14,0.14,0,0,0,0, 0,0.14,0.29,0.29,0.14,0,0, 0,0,0,0.14,0.14,0.14,0.14],
  [0.86,1,1.14,1.29,1.14,1,0.86, 0.86,1,1.14,1,0.86,0.71,0.71, 0.86,1,1,0.86,0.71,0.71,0.86, 1,1.14,1,0.86,0.71,0.57,0.57, 0.71,0.86,1,1.14,1.29,1.14,1, 0.86,0.86,1,1,0.86,0.71,0.86, 1,1.14,1,0.86,0.86,1,1],
  [0,0,0,0,0,0,0, 0,0,0,0,0,0,0, 0,0,0,0,0,0,0, 0,0,0,0,0,0,0, 0,0,0,0,0,0,0, 0,0,0,0,0,0,0, 0,0,0,0,0,0,0],
  [0,0,0,0,0,0,0, 0,0,0,0,0,0,0, 0,0,0,0,0,0,0, 0,0,0,0,0,0,0, 0,0,0,0,0,0,0, 0,0,0,0,0,0,0, 0,0,0,0,0,0,0],
  [0.14,0.14,0.14,0.14,0.14,0.14,0.14, 0.14,0.14,0.14,0.14,0.14,0.14,0.14, 0.14,0.14,0.14,0.14,0.14,0.14,0.14, 0.14,0.14,0.14,0.14,0.14,0.14,0.14, 0.14,0.14,0.14,0.14,0.14,0.14,0.14, 0.14,0.14,0.14,0.14,0.14,0.14,0.14, 0.14,0.14,0.14,0.14,0.14,0.14,0.14],
  [0,0.14,0,0.14,0.29,0.14,0, 0.14,0.29,0.43,0.29,0.14,0,0.14, 0.29,0.14,0,0,0.14,0.29,0.43, 0.29,0.14,0,0.14,0.29,0.14,0, 0,0.14,0.29,0.43,0.29,0.14,0, 0.14,0.29,0.14,0,0,0.14,0.29, 0.43,0.29,0.14,0,0.14,0.29,0.14],
  [0.29,0.43,0.57,0.43,0.29,0.14,0.29, 0.43,0.57,0.71,0.57,0.43,0.29,0.14, 0,0.14,0.29,0.43,0.57,0.43,0.29, 0.14,0.29,0.43,0.29,0.14,0,0.14, 0.29,0.43,0.57,0.43,0.29,0.14,0, 0.14,0.29,0.43,0.57,0.71,0.57,0.43, 0.29,0.14,0.29,0.43,0.57,0.43,0.29],
  [0.43,0.29,0.14,0.29,0.43,0.57,0.71, 0.86,0.71,0.57,0.43,0.29,0.43,0.57, 0.71,0.57,0.43,0.29,0.14,0.29,0.43, 0.57,0.43,0.29,0.14,0.14,0.29,0.43, 0.57,0.71,0.57,0.43,0.29,0.43,0.57, 0.43,0.29,0.14,0.29,0.43,0.57,0.71, 0.57,0.43,0.29,0.14,0.29,0.43,0.57],
  [0.14,0.29,0.14,0,0,0.14,0.29, 0.29,0.14,0,0,0,0.14,0.29, 0.43,0.29,0.14,0,0.14,0.14,0.29, 0.14,0,0,0.14,0.29,0.29,0.14, 0,0.14,0.14,0.29,0.14,0,0, 0,0.14,0.29,0.14,0,0.14,0.29, 0.29,0.14,0,0,0.14,0.29,0.14],
  [0.57,0.71,0.86,0.71,0.57,0.43,0.57, 0.71,0.86,1,0.86,0.71,0.57,0.43, 0.57,0.71,0.71,0.57,0.43,0.29,0.43, 0.57,0.71,0.86,0.71,0.57,0.43,0.29, 0.14,0.29,0.43,0.57,0.71,0.57,0.43, 0.29,0.43,0.57,0.71,0.86,0.71,0.57, 0.43,0.57,0.71,0.86,1,0.86,0.71],
  [0.29,0.29,0.29,0.14,0.14,0.14,0.14, 0.29,0.29,0.29,0.29,0.43,0.43,0.43, 0.29,0.29,0.29,0.29,0.29,0.14,0.14, 0.14,0.14,0.29,0.29,0.29,0.29,0.29, 0.29,0.14,0.14,0.14,0.14,0.14,0.29, 0.29,0.29,0.29,0.29,0.14,0.14,0.14, 0.14,0.29,0.29,0.29,0.29,0.29,0.29],
  [0,0,0.14,0.29,0.43,0.57,0.43, 0.29,0.14,0,0,0.14,0.29,0.43, 0.29,0.14,0,0,0,0.14,0.29, 0.43,0.57,0.43,0.29,0.14,0,0, 0,0.14,0.29,0.29,0.14,0,0, 0.14,0.29,0.43,0.43,0.29,0.14,0, 0,0.14,0.29,0.43,0.29,0.14,0],
  [0.86,0.86,0.71,0.71,0.71,0.86,0.86, 1,1,0.86,0.86,0.71,0.71,0.71, 0.86,0.86,0.86,0.71,0.71,0.57,0.57, 0.57,0.71,0.71,0.86,0.86,0.71,0.71, 0.57,0.57,0.57,0.71,0.71,0.71,0.86, 0.86,0.71,0.71,0.57,0.57,0.71,0.71, 0.86,0.86,0.86,0.71,0.71,0.71,0.86],
  [0.14,0.14,0.14,0,0,0,0.14, 0.14,0.14,0.14,0.14,0.14,0,0, 0,0,0.14,0.14,0.14,0.14,0.14, 0.14,0,0,0,0,0,0.14, 0.14,0.14,0.14,0.14,0,0,0, 0,0,0.14,0.14,0.14,0.14,0, 0,0,0,0,0.14,0.14,0.14],
  [0.43,0.57,0.71,0.57,0.43,0.43,0.57, 0.71,0.86,0.71,0.57,0.43,0.29,0.29, 0.43,0.57,0.57,0.43,0.29,0.29,0.43, 0.57,0.71,0.57,0.43,0.43,0.29,0.29, 0.43,0.43,0.29,0.29,0.43,0.57,0.71, 0.71,0.57,0.43,0.43,0.57,0.57,0.43, 0.29,0.29,0.43,0.57,0.71,0.71,0.57],
  [1.14,1,0.86,0.71,0.57,0.71,0.86, 1,1.14,1.29,1.14,1,0.86,0.71, 0.57,0.57,0.71,0.86,1,1.14,1, 0.86,0.71,0.57,0.43,0.43,0.57,0.71, 0.86,1,0.86,0.71,0.57,0.57,0.71, 0.86,1,1.14,1,0.86,0.71,0.57, 0.57,0.71,0.86,1,1.14,1,0.86],
  [0.29,0.14,0.14,0.29,0.43,0.43,0.29, 0.14,0.14,0.29,0.43,0.57,0.57,0.43, 0.29,0.29,0.43,0.43,0.29,0.14,0.14, 0.29,0.43,0.57,0.57,0.43,0.29,0.14, 0.14,0.14,0.29,0.29,0.14,0.14,0.29, 0.43,0.43,0.29,0.14,0.14,0.29,0.43, 0.43,0.29,0.29,0.43,0.57,0.43,0.29],
  [0.57,0.57,0.57,0.57,0.57,0.57,0.57, 0.57,0.43,0.43,0.43,0.43,0.57,0.57, 0.57,0.57,0.57,0.57,0.57,0.57,0.43, 0.43,0.43,0.43,0.43,0.57,0.57,0.57, 0.57,0.57,0.57,0.43,0.43,0.43,0.43, 0.43,0.43,0.43,0.57,0.57,0.57,0.57, 0.57,0.57,0.57,0.57,0.43,0.43,0.43],
  [0,0.14,0.29,0.14,0,0,0, 0,0,0.14,0.29,0.29,0.14,0, 0,0,0,0.14,0.29,0.29,0.14, 0,0,0,0,0,0.14,0.29, 0.29,0.14,0,0,0,0,0.14, 0.29,0.14,0,0,0,0,0, 0.14,0.29,0.29,0.14,0,0,0],
  [1.43,1.29,1.14,1.29,1.43,1.57,1.43, 1.29,1.14,1,1.14,1.29,1.43,1.29, 1.14,1,0.86,1,1.14,1.29,1.14, 1,0.86,0.71,0.71,0.86,1,0.86, 0.71,0.71,0.86,1,1.14,1,0.86, 0.71,0.71,0.86,0.86,1,1.14,1.29, 1.43,1.29,1.14,1,1.14,1.29,1.43],
  [0.71,0.57,0.43,0.29,0.29,0.43,0.57, 0.57,0.43,0.29,0.29,0.43,0.57,0.71, 0.71,0.57,0.43,0.43,0.57,0.71,0.86, 0.71,0.57,0.43,0.29,0.29,0.29,0.43, 0.57,0.57,0.43,0.29,0.14,0.14,0.29, 0.43,0.57,0.57,0.43,0.29,0.29,0.43, 0.57,0.71,0.57,0.43,0.43,0.57,0.71],
  [0.29,0.29,0.29,0.29,0.29,0.29,0.29, 0.29,0.29,0.29,0.14,0.14,0.29,0.29, 0.29,0.29,0.29,0.29,0.29,0.29,0.29, 0.29,0.29,0.29,0.29,0.29,0.29,0.29, 0.29,0.29,0.29,0.29,0.29,0.14,0.14, 0.29,0.29,0.29,0.29,0.29,0.29,0.29, 0.29,0.29,0.29,0.29,0.29,0.29,0.29],
  [0.43,0.43,0.43,0.43,0.43,0.43,0.43, 0.43,0.43,0.43,0.43,0.43,0.43,0.43, 0.43,0.43,0.43,0.29,0.29,0.43,0.43, 0.43,0.43,0.43,0.43,0.43,0.43,0.43, 0.43,0.43,0.43,0.43,0.43,0.43,0.43, 0.43,0.43,0.43,0.43,0.43,0.43,0.43, 0.43,0.43,0.43,0.43,0.43,0.43,0.43],
  [0,0,0,0,0,0,0, 0,0,0,0,0,0,0, 0,0,0,0,0,0,0, 0,0,0,0,0,0,0, 0,0,0,0,0,0,0, 0,0,0,0,0,0,0, 0,0,0,0,0,0,0],
  [0.29,0.14,0,0,0.14,0.29,0.43, 0.29,0.14,0,0.14,0.29,0.29,0.14, 0,0,0.14,0.29,0.43,0.29,0.14, 0,0.14,0.29,0.29,0.14,0,0, 0.14,0.29,0.43,0.29,0.14,0,0, 0,0.14,0.29,0.14,0,0.14,0.29, 0.29,0.14,0,0,0.14,0.29,0.43],
  [0.86,1,1.14,1.29,1.14,1,0.86, 1,1.14,1.29,1.29,1.14,1,0.86, 0.86,1,1.14,1.14,1,0.86,0.86, 1,1.14,1,0.86,0.86,1,1.14, 1.29,1.14,1,0.86,0.86,1,1.14, 1.14,1,0.86,0.86,1,1.14,1.29, 1.14,1,0.86,0.86,1,1.14,1.14],
  [0.14,0.14,0.14,0.14,0.14,0.14,0.14, 0.14,0.14,0.14,0.14,0.14,0.14,0.14, 0.14,0.14,0.14,0.14,0.14,0.14,0.14, 0.14,0.14,0.14,0.14,0.14,0.14,0.14, 0.14,0.14,0.14,0.14,0.14,0.14,0.14, 0.14,0.14,0.14,0.14,0.14,0.14,0.14, 0.14,0.14,0.14,0.14,0.14,0.14,0.14]
];
var ropMean = [0.24,0.24,0.24,0.24,0.23,0.23,0.23, 0.23,0.23,0.23,0.24,0.24,0.25,0.24, 0.24,0.23,0.22,0.22,0.22,0.22,0.21,
               0.21,0.21,0.20,0.20,0.19,0.18,0.18, 0.18,0.17,0.17,0.16,0.16,0.17,0.18, 0.18,0.18,0.18,0.17,0.17,0.16,0.16,
               0.17,0.18,0.19,0.19,0.20,0.20,0.21];

var FONT = '"Liberation Sans", Arial, Helvetica, sans-serif';
var INK = '#231f20';
var xMin = -26.4, xMax = 26.4;
var yMin = -0.273, yMax = 5.74;

function points(values) {
  return values.map(function (v, i) { return { x: hours[i], y: v }; });
}

// y axis title, drawn a little below the panel centre like the original
var yTitlePlugin = {
  id: 'yTitle',
  afterDraw: function (chart) {
    var ctx = chart.ctx, a = chart.chartArea;
    ctx.save();
    ctx.translate(22, (a.top + a.bottom) / 2 + 42);
    ctx.rotate(-Math.PI / 2);
    ctx.fillStyle = INK;
    ctx.font = '42px ' + FONT;
    ctx.textAlign = 'center';
    ctx.textBaseline = 'middle';
    ctx.fillText('BDs (6 hour rolling average)', 0, 0);
    ctx.restore();
  }
};

function makeChart(id, title, series, mean, padRight) {
  var datasets = [];
  // stressor marker at hour 0
  datasets.push({
    data: [{ x: 0, y: yMax }, { x: 0, y: yMin }],
    borderColor: INK, borderWidth: 10, borderDash: [10, 27], borderCapStyle: 'butt',
    pointRadius: 0, order: 0
  });
  datasets.push({
    data: points(mean),
    borderColor: INK, borderWidth: 16, pointRadius: 0, tension: 0,
    borderJoinStyle: 'round', order: 1
  });
  series.forEach(function (s) {
    datasets.push({
      data: points(s),
      borderColor: 'rgba(35,31,32,0.28)', borderWidth: 5, pointRadius: 0, tension: 0,
      borderJoinStyle: 'round', order: 2
    });
  });

  return new Chart(document.getElementById(id), {
    type: 'line',
    data: { datasets: datasets },
    plugins: [yTitlePlugin],
    options: {
      responsive: false,
      animation: false,
      devicePixelRatio: 1,
      layout: { padding: { left: 0, right: padRight, top: 1, bottom: 0 } },
      plugins: {
        legend: { display: false },
        tooltip: { enabled: false },
        title: {
          display: true, text: title, align: 'start', fullSize: false, color: INK,
          font: { family: FONT, size: 60, weight: 'normal', lineHeight: 1 },
          padding: { top: 0, bottom: 25 }
        }
      },
      scales: {
        x: {
          type: 'linear', min: xMin, max: xMax,
          afterBuildTicks: function (s) { s.ticks = xTicks.map(function (v) { return { value: v }; }); },
          afterFit: function (s) { s.height = 106; },
          grid: { display: false },
          border: { display: false },
          ticks: {
            color: INK, font: { family: FONT, size: 41 }, padding: 21,
            maxRotation: 0, autoSkip: false,
            callback: function (v) { return String(v); }
          },
          title: {
            display: true, text: 'Hour relative to stressor', color: INK,
            font: { family: FONT, size: 43, lineHeight: 1 },
            padding: { top: 0, bottom: -10 }
          }
        },
        y: {
          type: 'linear', min: yMin, max: yMax,
          afterBuildTicks: function (s) { s.ticks = yGrid.map(function (v) { return { value: v }; }); },
          afterFit: function (s) { s.width = 94; },
          grid: { color: '#dedede', lineWidth: 3, drawTicks: false },
          border: { display: false },
          ticks: {
            color: INK, font: { family: FONT, size: 41 }, padding: 17, autoSkip: false,
            callback: function (v) { return yLabels.indexOf(v) >= 0 ? String(v) : ''; }
          },
          title: { display: false }
        }
      }
    }
  });
}

makeChart('immun', 'Immunizations', immunSeries, immunMean, 17);
makeChart('rop', 'ROP exam', ropSeries, ropMean, 2);
</script>
</body>
</html>
